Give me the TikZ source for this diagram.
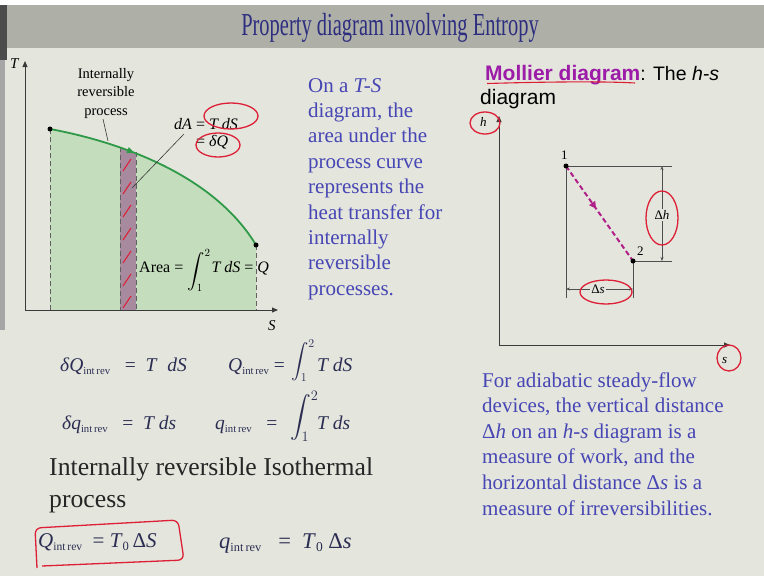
\documentclass[tikz,border=0pt]{standalone}
\usepackage{exscale}
\usepackage{fontspec}
\setmainfont{Liberation Serif}
\setsansfont{Liberation Sans}
\usetikzlibrary{arrows.meta,decorations.markings}
\definecolor{bodybg}{HTML}{E4E5DD}
\definecolor{titlebg}{HTML}{AEB0A8}
\definecolor{titlefg}{HTML}{2E2E80}
\definecolor{bluetxt}{HTML}{4646B4}
\definecolor{fillgreen}{HTML}{C4DDBC}
\definecolor{curvegreen}{HTML}{2E9A48}
\definecolor{stripc}{HTML}{A78A9E}
\definecolor{inkred}{HTML}{DD2036}
\definecolor{mollier}{HTML}{9C1CA8}
\definecolor{pathmag}{HTML}{B02088}
\definecolor{eqc}{HTML}{2B2E52}
\definecolor{axisc}{HTML}{3A3A3A}
\newcommand{\fsz}[2]{\fontsize{#1}{#2}\selectfont}
\newcommand{\irv}{\raisebox{-0.35ex}{\scalebox{0.55}{int\,rev}}}
\newcommand{\zsub}{\raisebox{-0.35ex}{\scalebox{0.6}{0}}}
\tikzset{
  txt/.style={inner sep=0pt, anchor=base west},
  eq/.style={txt, text=eqc, font=\fsz{19.5}{22}},
  axisline/.style={draw=axisc, line width=0.9pt, -{Triangle[length=6pt,width=5pt]}},
  dashv/.style={draw=axisc!80, line width=0.8pt, dash pattern=on 5pt off 3pt},
  dimline/.style={draw=axisc!90, line width=0.5pt},
  dimarrow/.style={draw=axisc!90, line width=0.5pt, {Stealth[length=4pt,width=3pt]}-{Stealth[length=4pt,width=3pt]}},
  redink/.style={draw=inkred, line width=1.3pt},
  dotpt/.style={circle, fill=black, inner sep=0pt, minimum size=5pt},
}
\begin{document}
\begin{tikzpicture}[x=1pt,y=-1pt]
\useasboundingbox (0,0) rectangle (764,576);
% backgrounds
\fill[white] (0,0) rectangle (764,5);
\fill[bodybg] (0,48) rectangle (764,576);
\fill[titlebg] (0,5) rectangle (764,48);
\fill[black!70] (0,5) rectangle (7,60);
\fill[black!35] (0,60) rectangle (5,330);
% title
\node[txt, anchor=base] (title) at (390,35) {\fsz{32}{36}\scalebox{0.64}[1]{\color{titlefg}Property diagram involving Entropy}};

% ---------------- T-S diagram ----------------
\coordinate (p1) at (50,129);
\coordinate (p2) at (256,245);
\def\areapath{(50,310) -- (p1) .. controls (125,143) and (215,177) .. (p2) -- (256,310) -- cycle}
\fill[fillgreen] \areapath;
\begin{scope}
  \clip \areapath;
  \fill[stripc] (120,100) rectangle (136,310);
\end{scope}
\foreach \yy in {165,188,211,234,257,280,302}
  \draw[inkred, line width=1pt] (123,\yy+6) -- (131,\yy-6);
\draw[dashv] (50,129) -- (50,310);
\draw[dashv] (120,147) -- (120,310);
\draw[dashv] (136,152) -- (136,310);
\draw[dashv] (256,245) -- (256,310);
\draw[curvegreen, line width=1.8pt,
  postaction={decorate},
  decoration={markings, mark=at position 0.36 with {\arrow{Triangle[length=7pt,width=6pt]}}}]
  (p1) .. controls (125,143) and (215,177) .. (p2);
\node[dotpt] (d1) at (p1) {};
\node[dotpt] (d2) at (p2) {};
\coordinate (Torig) at (25,310);
\coordinate (Ttop) at (25,61);
\coordinate (Send) at (278,310);
\draw[axisline] (Torig) -- (Ttop);
\draw[axisline] (Torig) -- (Send);
\node[txt, font=\fsz{15}{18}] (Tlab) at (10,68) {\textit{T}};
\node[txt, font=\fsz{15}{18}] (Slab) at (268,330) {\textit{S}};
\node[inner sep=0pt, align=center, anchor=north, font=\fsz{14.5}{18.5}] (irp) at (106,68) {Internally\\reversible\\process};
\coordinate (irpend) at (108,141);
\draw[axisc, line width=0.6pt] (103,119) -- (irpend);
\node[txt, font=\fsz{16}{18}] (dA) at (174,129) {\textit{dA} = \textit{T dS}};
\node[txt, font=\fsz{16}{18}] (dQ) at (196,146) {= \textit{δQ}};
\coordinate (dAtip) at (132,188);
\draw[axisc, line width=0.6pt] (184,134) -- (dAtip);
\node[txt, font=\fsz{16}{18}] (area) at (139,272) {Area = \raisebox{-4pt}{$\displaystyle\int_1^2$}\kern1pt\textit{T dS} = \textit{Q}};
\draw[redink] (231,116) ellipse [x radius=27pt, y radius=13pt];
\draw[redink] (218,145) ellipse [x radius=22pt, y radius=12pt];

% ---------------- blue explanation ----------------
\foreach \t [count=\i] in {{On a \textit{T-S}},{diagram, the},{area under the},{process curve},{represents the},{heat transfer for},{internally},{reversible},{processes.}}
  \node[txt, text=bluetxt, font=\fsz{21}{25}] (bl\i) at (308,{92+25.4*(\i-1)}) {\t};

% ---------------- Mollier ----------------
\node[txt, font=\fsz{21}{25}\sffamily] (moll) at (485,80) {\textbf{\color{mollier}Mollier diagram}\fsz{19.5}{25}: The \textit{h-s}};
\node[txt, font=\fsz{21}{25}\sffamily] (moll2) at (480,104) {diagram};
\draw[inkred, line width=1.1pt] (487,83.5) .. controls (540,82) and (600,81) .. (635,83);
\coordinate (horig) at (499,345);
\coordinate (htop) at (499,116);
\coordinate (send) at (730,345);
\draw[axisline] (horig) -- (htop);
\draw[axisline] (horig) -- (send);
\node[txt, font=\fsz{13}{15}] (hlab) at (480,126) {\textit{h}};
\node[txt, font=\fsz{13}{15}] (slab) at (722,363) {\textit{s}};
\draw[redink] (485,123) ellipse [x radius=15pt, y radius=11pt];
\draw[redink] (729,358) ellipse [x radius=12pt, y radius=13pt];
\coordinate (q1) at (566,166);
\coordinate (q2) at (633,261);
\draw[dimline] (q1) -- (672,166);
\draw[dimline] (q2) -- (672,261);
\draw[dimline] (q1) -- (566,298);
\draw[dimline] (q2) -- (633,298);
\draw[dimarrow] (662,166) -- (662,261);
\node[fill=bodybg, inner sep=1pt, font=\fsz{13}{15}] (dh) at (662,215) {Δ\textit{h}};
\draw[dimarrow] (566,289) -- (633,289);
\node[fill=bodybg, inner sep=1pt, font=\fsz{13}{15}] (ds) at (598,289) {Δ\textit{s}};
\draw[pathmag, line width=2pt, dash pattern=on 5pt off 3pt,
  postaction={decorate},
  decoration={markings, mark=at position 0.45 with {\arrow{Triangle[length=7pt,width=7pt]}}}]
  (q1) -- (q2);
\node[dotpt] (m1) at (q1) {};
\node[dotpt] (m2) at (q2) {};
\node[txt, font=\fsz{13}{15}] (one) at (561,159) {1};
\node[txt, font=\fsz{13}{15}] (two) at (637,255) {2};
\draw[redink] (662,218) ellipse [x radius=16pt, y radius=27pt];
\draw[redink] (606,292) ellipse [x radius=26pt, y radius=12pt];

% ---------------- bottom-right blue paragraph ----------------
\foreach \t [count=\i] in {{For adiabatic steady-flow},{devices, the vertical distance},{Δ\textit{h} on an \textit{h-s} diagram is a},{measure of work, and the},{horizontal distance Δ\textit{s} is a},{measure of irreversibilities.}}
  \node[txt, text=bluetxt, font=\fsz{21}{25}] (br\i) at (482,{387+25.6*(\i-1)}) {\t};

% ---------------- equations ----------------
\node[eq] (e1a) at (60,371) {\textit{δQ}\irv\ \ \ =\ \ \textit{T}\ \ \textit{dS}};
\node[eq] (e1b) at (228,371) {\textit{Q}\irv\ =};
\node[txt, text=eqc, font=\fsz{18}{20}] (i1) at (291,371) {\raisebox{5pt}{$\displaystyle\int_1^2$}};
\node[eq] (e1c) at (317,371) {\textit{T dS}};
\node[eq] (e2a) at (62,429) {\textit{δq}\irv\ \ \ =\ \ \textit{T ds}};
\node[eq] (e2b) at (215,429) {\textit{q}\irv\ \ \ =};
\node[txt, text=eqc, font=\fsz{22}{24}] (i2) at (290,429) {\raisebox{6pt}{$\displaystyle\int_1^2$}};
\node[eq] (e2c) at (317,429) {\textit{T ds}};
\node[txt, text=black!85, font=\fsz{25.7}{30}] (iso1) at (49,475) {Internally reversible Isothermal};
\node[txt, text=black!85, font=\fsz{25.7}{30}] (iso2) at (49,507) {process};
\node[txt, text=eqc, font=\fsz{21}{24}] (e3a) at (38,547) {\textit{Q}\irv\ \ =\ \textit{T}\zsub\,Δ\textit{S}};
\node[txt, text=eqc, font=\fsz{22.5}{24}] (e3b) at (219,548) {\textit{q}\irv\ \ \ =\ \ \textit{T}\zsub\ Δ\textit{s}};
\draw[redink, rounded corners=6pt] (37,568) -- (35,528) -- (178,520) -- (184,560) -- (42,566);
\end{tikzpicture}
\end{document}
